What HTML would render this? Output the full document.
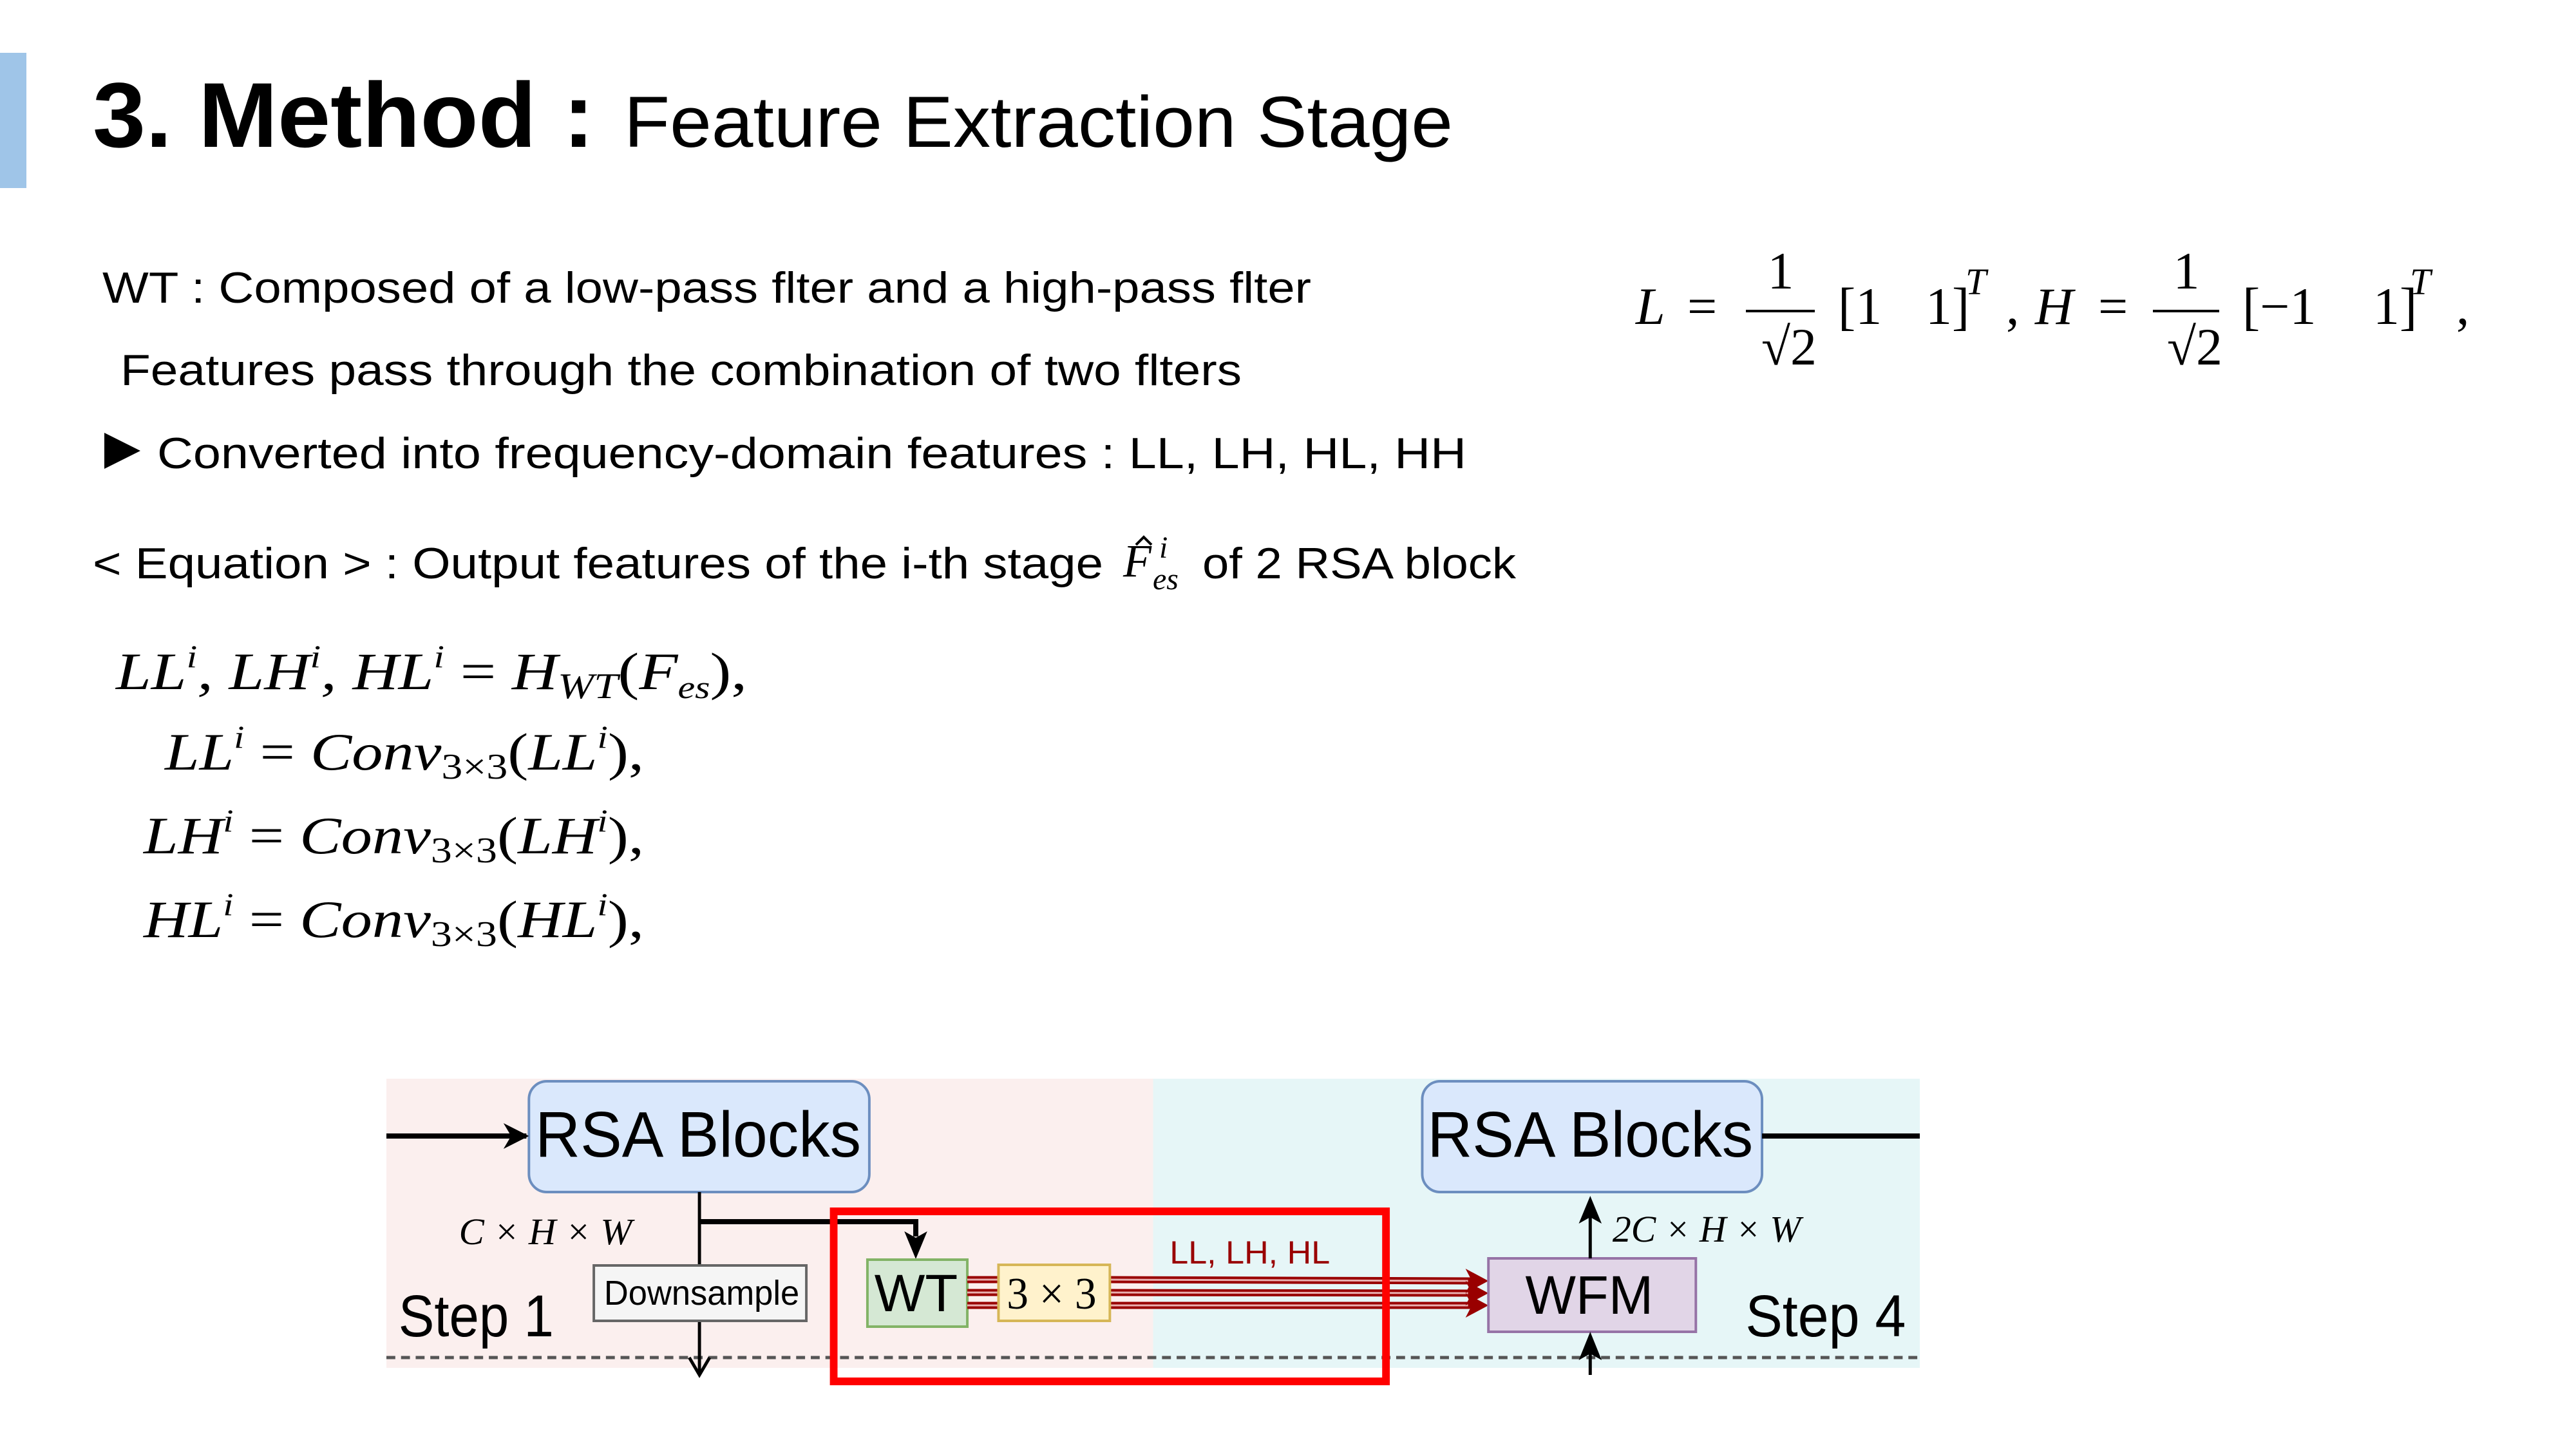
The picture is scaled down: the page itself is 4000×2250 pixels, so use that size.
<!DOCTYPE html>
<html><head><meta charset="utf-8"><style>
html,body{margin:0;padding:0;background:#fff;}
svg{display:block;}
.s{font-family:"Liberation Sans",sans-serif;}
.m{font-family:"Liberation Serif",serif;font-style:italic;}
.r{font-family:"Liberation Serif",serif;font-style:normal;}
</style></head><body>
<svg width="4000" height="2250" viewBox="0 0 4000 2250" xmlns="http://www.w3.org/2000/svg">
<defs>
<marker id="ab" viewBox="0 0 10 10" refX="9" refY="5" markerWidth="5" markerHeight="5" orient="auto" markerUnits="strokeWidth"><path d="M0,0 L10,5 L0,10 L3,5 Z" fill="#000"/></marker>
</defs>
<rect x="0" y="82" width="41" height="210" fill="#9fc5e8"/>
<text x="144" y="228" class="s" font-size="143" font-weight="bold" textLength="779" lengthAdjust="spacingAndGlyphs">3. Method :</text>
<text x="969" y="228" class="s" font-size="112" textLength="1287" lengthAdjust="spacingAndGlyphs">Feature Extraction Stage</text>

<text x="159" y="470" class="s" font-size="68" textLength="1877" lengthAdjust="spacingAndGlyphs">WT : Composed of a low-pass flter and a high-pass flter</text>
<text x="187" y="598" class="s" font-size="68" textLength="1741" lengthAdjust="spacingAndGlyphs">Features pass through the combination of two flters</text>
<path d="M162,672 L218,700 L162,728 Z" fill="#000"/>
<text x="244" y="727" class="s" font-size="68" textLength="2033" lengthAdjust="spacingAndGlyphs">Converted into frequency-domain features : LL, LH, HL, HH</text>
<text x="144" y="898" class="s" font-size="68" textLength="1569" lengthAdjust="spacingAndGlyphs">&lt; Equation &gt; : Output features of the i-th stage</text>
<text x="1744" y="895" class="m" font-size="72">F</text>
<path d="M1764,846 L1776,834 L1788,846" fill="none" stroke="#000" stroke-width="4"/>
<text x="1800" y="866" class="m" font-size="48">i</text>
<text x="1790" y="915" class="m" font-size="48">es</text>
<text x="1867" y="898" class="s" font-size="68" textLength="487" lengthAdjust="spacingAndGlyphs">of 2 RSA block</text>

<text x="180" y="1070" class="m" font-size="82" textLength="980" lengthAdjust="spacingAndGlyphs">LL<tspan font-size="50" dy="-34">i</tspan><tspan dy="34">, LH</tspan><tspan font-size="50" dy="-34">i</tspan><tspan dy="34">, HL</tspan><tspan font-size="50" dy="-34">i</tspan><tspan dy="34" class="r"> = </tspan>H<tspan font-size="56" dy="14">WT</tspan><tspan dy="-14" class="r">(</tspan>F<tspan font-size="50" dy="14">es</tspan><tspan dy="-14" class="r">),</tspan></text>
<text x="256" y="1195" class="m" font-size="82" textLength="744" lengthAdjust="spacingAndGlyphs">LL<tspan font-size="50" dy="-34">i</tspan><tspan dy="34" class="r"> = </tspan>Conv<tspan font-size="56" dy="14" class="r">3×3</tspan><tspan dy="-14" class="r">(</tspan>LL<tspan font-size="50" dy="-34">i</tspan><tspan dy="34" class="r">),</tspan></text>
<text x="223" y="1325" class="m" font-size="82" textLength="777" lengthAdjust="spacingAndGlyphs">LH<tspan font-size="50" dy="-34">i</tspan><tspan dy="34" class="r"> = </tspan>Conv<tspan font-size="56" dy="14" class="r">3×3</tspan><tspan dy="-14" class="r">(</tspan>LH<tspan font-size="50" dy="-34">i</tspan><tspan dy="34" class="r">),</tspan></text>
<text x="223" y="1455" class="m" font-size="82" textLength="777" lengthAdjust="spacingAndGlyphs">HL<tspan font-size="50" dy="-34">i</tspan><tspan dy="34" class="r"> = </tspan>Conv<tspan font-size="56" dy="14" class="r">3×3</tspan><tspan dy="-14" class="r">(</tspan>HL<tspan font-size="50" dy="-34">i</tspan><tspan dy="34" class="r">),</tspan></text>

<!-- right formula -->
<text x="2540" y="503" class="m" font-size="82">L</text>
<text x="2620" y="503" class="r" font-size="82">=</text>
<line x1="2711" y1="483" x2="2818" y2="483" stroke="#000" stroke-width="4"/>
<text x="2765" y="448" class="r" font-size="82" text-anchor="middle">1</text>
<text x="2735" y="566" class="r" font-size="82">√2</text>
<text x="2854" y="503" class="r" font-size="82">[1</text>
<text x="2990" y="503" class="r" font-size="82">1]</text>
<text x="3052" y="457" class="m" font-size="58">T</text>
<text x="3115" y="503" class="r" font-size="82">,</text>
<text x="3160" y="503" class="m" font-size="82">H</text>
<text x="3258" y="503" class="r" font-size="82">=</text>
<line x1="3343" y1="483" x2="3446" y2="483" stroke="#000" stroke-width="4"/>
<text x="3395" y="448" class="r" font-size="82" text-anchor="middle">1</text>
<text x="3365" y="566" class="r" font-size="82">√2</text>
<text x="3482" y="503" class="r" font-size="82">[−1</text>
<text x="3685" y="503" class="r" font-size="82">1]</text>
<text x="3742" y="457" class="m" font-size="58">T</text>
<text x="3814" y="503" class="r" font-size="82">,</text>

<!-- diagram -->
<g transform="translate(600,-4) scale(0.988,1) translate(-600,0)">
<rect x="600" y="1679" width="1205" height="449" fill="#fbefee"/>
<rect x="1805" y="1679" width="1205" height="449" fill="#e6f6f7"/>
<line x1="600" y1="2112" x2="3010" y2="2112" stroke="#555" stroke-width="5" stroke-dasharray="14,9"/>
<rect x="824" y="1683" width="535" height="172" rx="28" fill="#dae8fc" stroke="#6c8ebf" stroke-width="4"/>
<rect x="2228" y="1683" width="534" height="172" rx="28" fill="#dae8fc" stroke="#6c8ebf" stroke-width="4"/>
<text x="834" y="1800" class="s" font-size="100" textLength="512" lengthAdjust="spacingAndGlyphs">RSA Blocks</text>
<text x="2236" y="1800" class="s" font-size="100" textLength="512" lengthAdjust="spacingAndGlyphs">RSA Blocks</text>
<line x1="600" y1="1768" x2="820" y2="1768" stroke="#000" stroke-width="8" marker-end="url(#ab)"/>
<line x1="2762" y1="1768" x2="3010" y2="1768" stroke="#000" stroke-width="8"/>
<line x1="1092" y1="1855" x2="1092" y2="1969" stroke="#000" stroke-width="5"/>
<line x1="1092" y1="2055" x2="1092" y2="2139" stroke="#000" stroke-width="5"/>
<path d="M1076,2112 L1092,2139 L1108,2112" fill="none" stroke="#000" stroke-width="5"/>
<path d="M1092,1901 L1432,1901 L1432,1924" fill="none" stroke="#000" stroke-width="8"/>
<path d="M1414,1916 L1432,1959 L1450,1916 L1432,1926 Z" fill="#000"/>
<text x="714" y="1936" class="m" font-size="58" textLength="272" lengthAdjust="spacingAndGlyphs">C × H × W</text>
<rect x="926" y="1969" width="334" height="86" fill="#f5f5f5" stroke="#666" stroke-width="4"/>
<text x="942" y="2030" class="s" font-size="54" textLength="307" lengthAdjust="spacingAndGlyphs">Downsample</text>
<text x="619" y="2079" class="s" font-size="92" textLength="244" lengthAdjust="spacingAndGlyphs">Step 1</text>
<text x="2736" y="2079" class="s" font-size="92" textLength="252" lengthAdjust="spacingAndGlyphs">Step 4</text>
<rect x="1356" y="1960" width="157" height="104" fill="#d5e8d4" stroke="#82b366" stroke-width="4"/>
<text x="1367" y="2040" class="s" font-size="82" textLength="131" lengthAdjust="spacingAndGlyphs">WT</text>
<g stroke="#990000" stroke-width="11">
<line x1="1513" y1="1991" x2="1562" y2="1991"/><line x1="1513" y1="2011" x2="1562" y2="2011"/><line x1="1513" y1="2031" x2="1562" y2="2031"/>
<line x1="1737" y1="1991" x2="2310" y2="1993"/><line x1="1737" y1="2011" x2="2310" y2="2012"/><line x1="1737" y1="2031" x2="2310" y2="2031"/>
</g>
<g stroke="#e8b0b0" stroke-width="3">
<line x1="1513" y1="1991" x2="1562" y2="1991"/><line x1="1513" y1="2011" x2="1562" y2="2011"/><line x1="1513" y1="2031" x2="1562" y2="2031"/>
<line x1="1737" y1="1991" x2="2300" y2="1993"/><line x1="1737" y1="2011" x2="2300" y2="2012"/><line x1="1737" y1="2031" x2="2300" y2="2031"/>
</g>
<g fill="#990000">
<path d="M2296,1974 L2332,1993 L2296,2012 L2306,1993 Z"/>
<path d="M2296,1993 L2332,2012 L2296,2031 L2306,2012 Z"/>
<path d="M2296,2012 L2332,2031 L2296,2050 L2306,2031 Z"/>
</g>
<rect x="1562" y="1968" width="175" height="87" fill="#fff2cc" stroke="#d6b656" stroke-width="4"/>
<text x="1575" y="2036" class="r" font-size="70" textLength="141" lengthAdjust="spacingAndGlyphs">3 × 3</text>
<text x="1831" y="1966" class="s" font-size="50" fill="#990000" textLength="252" lengthAdjust="spacingAndGlyphs">LL, LH, HL</text>
<rect x="2332" y="1958" width="326" height="114" fill="#e1d5e7" stroke="#9673a6" stroke-width="4"/>
<text x="2390" y="2044" class="s" font-size="84" textLength="201" lengthAdjust="spacingAndGlyphs">WFM</text>
<line x1="2492" y1="1958" x2="2492" y2="1874" stroke="#000" stroke-width="5"/>
<path d="M2474,1904 L2492,1861 L2510,1904 L2492,1894 Z" fill="#000"/>
<line x1="2492" y1="2139" x2="2492" y2="2084" stroke="#000" stroke-width="5"/>
<path d="M2474,2116 L2492,2072 L2510,2116 L2492,2106 Z" fill="#000"/>
<text x="2527" y="1932" class="m" font-size="58" textLength="296" lengthAdjust="spacingAndGlyphs">2C × H × W</text>
<rect x="1303" y="1885" width="868" height="264" fill="none" stroke="#ff0000" stroke-width="12"/>
</g>
</svg>
</body></html>
